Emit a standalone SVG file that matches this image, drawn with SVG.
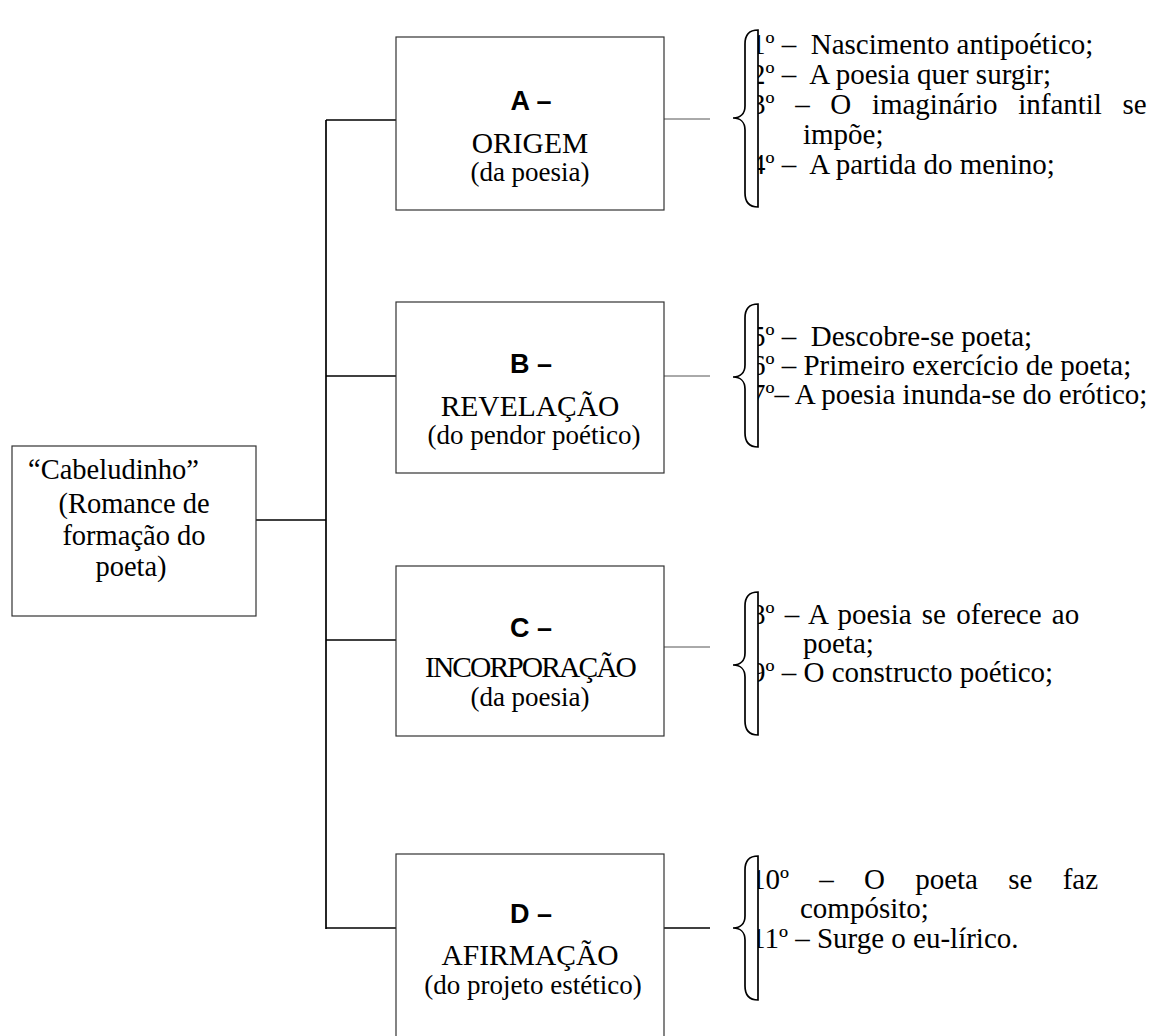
<svg xmlns="http://www.w3.org/2000/svg" width="1160" height="1036" viewBox="0 0 1160 1036">
<style>
.box{fill:#fff;stroke:#333;stroke-width:1.2}
.t{font-family:"Liberation Serif","Times New Roman",serif;font-size:29.5px;fill:#000}
.r{font-family:"Liberation Serif","Times New Roman",serif;font-size:28.5px;fill:#000}
.s{font-family:"Liberation Serif","Times New Roman",serif;font-size:27px;fill:#000}
.lab{font-family:"Liberation Sans",Arial,sans-serif;font-size:27px;font-weight:bold;fill:#000}
.li{font-family:"Liberation Serif","Times New Roman",serif;font-size:29px;fill:#000}
.c{stroke:#000;stroke-width:1.7;fill:none}
.cg{stroke:#555;stroke-width:1;fill:none}
.br{fill:#fff;stroke:#000;stroke-width:1.7}
</style>
<g id="connectors">
<line class="c" x1="256" y1="520" x2="326" y2="520"/>
<line class="c" x1="326" y1="120" x2="326" y2="929"/>
<line class="c" x1="326" y1="120" x2="396" y2="120"/>
<line class="c" x1="326" y1="376" x2="396" y2="376"/>
<line class="c" x1="326" y1="640" x2="396" y2="640"/>
<line class="c" x1="326" y1="928" x2="396" y2="928"/>
<line class="cg" x1="664" y1="119" x2="710" y2="119"/>
<line class="cg" x1="664" y1="376" x2="710" y2="376"/>
<line class="cg" x1="664" y1="647" x2="710" y2="647"/>
<line class="c" x1="664" y1="928" x2="710" y2="928"/>
</g>
<g id="root">
<rect class="box" x="12" y="446" width="244" height="170"/>
<text class="r" x="28" y="479">“Cabeludinho”</text>
<text class="r" x="134" y="513" text-anchor="middle">(Romance de</text>
<text class="r" x="134" y="545" text-anchor="middle">formação do</text>
<text class="r" x="131" y="576" text-anchor="middle">poeta)</text>
</g>
<g id="nodeA">
<rect class="box" x="396" y="37" width="268" height="173"/>
<text class="lab" x="531" y="110" text-anchor="middle">A –</text>
<text class="t" x="530" y="153" text-anchor="middle">ORIGEM</text>
<text class="s" x="530" y="181" text-anchor="middle">(da poesia)</text>
</g>
<g id="nodeB">
<rect class="box" x="396" y="302" width="268" height="171"/>
<text class="lab" x="531" y="373" text-anchor="middle">B –</text>
<text class="t" x="530" y="416" text-anchor="middle">REVELAÇÃO</text>
<text class="s" x="534" y="444" text-anchor="middle">(do pendor poético)</text>
</g>
<g id="nodeC">
<rect class="box" x="396" y="566" width="268" height="170"/>
<text class="lab" x="531" y="637" text-anchor="middle">C –</text>
<text class="t" x="530" y="677" text-anchor="middle" letter-spacing="-1.9">INCORPORAÇÃO</text>
<text class="s" x="530" y="706" text-anchor="middle">(da poesia)</text>
</g>
<g id="nodeD">
<rect class="box" x="396" y="854" width="268" height="200"/>
<text class="lab" x="531" y="923" text-anchor="middle">D –</text>
<text class="t" x="530" y="965" text-anchor="middle">AFIRMAÇÃO</text>
<text class="s" x="533" y="994" text-anchor="middle">(do projeto estético)</text>
</g>
<g id="listA">
<text class="li" x="751" y="54" xml:space="preserve">1º –  Nascimento antipoético;</text>
<text class="li" x="751" y="84" xml:space="preserve">2º –  A poesia quer surgir;</text>
<text class="li" x="751" y="114" word-spacing="13.4">3º – O imaginário infantil se</text>
<text class="li" x="803" y="144">impõe;</text>
<text class="li" x="751" y="174" xml:space="preserve">4º –  A partida do menino;</text>
<path class="br" d="M758,30 C750,30 745,34 745,44 L745,106 C745,114 740,118 733,118 C740,118 745,122 745,130 L745,193 C745,203 750,207 758,207 Z"/>
</g>
<g id="listB">
<text class="li" x="751" y="346" xml:space="preserve">5º –  Descobre-se poeta;</text>
<text class="li" x="751" y="375">6º – Primeiro exercício de poeta;</text>
<text class="li" x="751" y="404">7º– A poesia inunda-se do erótico;</text>
<path class="br" d="M758,304 C750,304 745,308 745,318 L745,365 C745,373 740,377 733,377 C740,377 745,381 745,389 L745,433 C745,443 750,447 758,447 Z"/>
</g>
<g id="listC">
<text class="li" x="751" y="624" word-spacing="3">8º – A poesia se oferece ao</text>
<text class="li" x="803" y="653">poeta;</text>
<text class="li" x="751" y="682">9º – O constructo poético;</text>
<path class="br" d="M758,592 C750,592 745,596 745,606 L745,653 C745,661 740,665 733,665 C740,665 745,669 745,677 L745,721 C745,731 750,735 758,735 Z"/>
</g>
<g id="listD">
<text class="li" x="751" y="889" word-spacing="23">10º – O poeta se faz</text>
<text class="li" x="800" y="918">compósito;</text>
<text class="li" x="751" y="948">11º – Surge o eu-lírico.</text>
<path class="br" d="M758,856 C750,856 745,860 745,870 L745,916 C745,924 740,928 733,928 C740,928 745,932 745,940 L745,986 C745,996 750,1000 758,1000 Z"/>
</g>
</svg>
